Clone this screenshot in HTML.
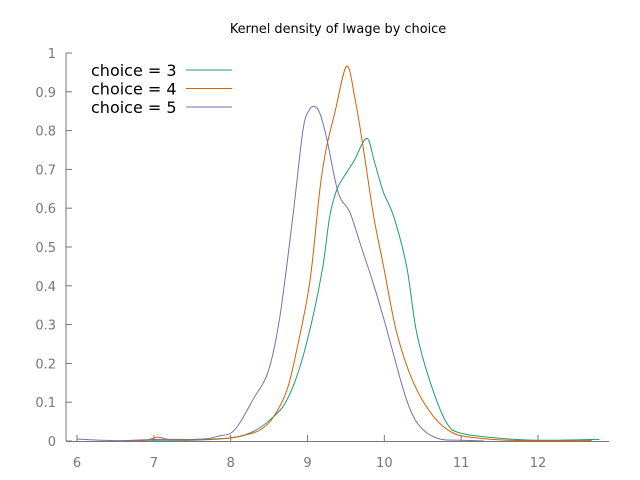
<!DOCTYPE html>
<html><head><meta charset="utf-8"><style>
body{margin:0;background:#fff;font-family:"DejaVu Sans","Liberation Sans",sans-serif}
svg{display:block}
</style></head><body>
<svg id="chart" width="640" height="480" xmlns="http://www.w3.org/2000/svg" font-family="DejaVu Sans, Liberation Sans, sans-serif">
<text x="338" y="33" text-anchor="middle" font-size="12.9" fill="#000">Kernel density of lwage by choice</text>
<g id="axes"></g>
<g id="series"></g>
<g id="legend"></g>
</svg>
<script>
const xTicks=[6,7,8,9,10,11,12];
const yTicks=[0,0.1,0.2,0.3,0.4,0.5,0.6,0.7,0.8,0.9,1];
const yTickLabels=["0","0.1","0.2","0.3","0.4","0.5","0.6","0.7","0.8","0.9","1"];
const seriesNames=["choice = 3","choice = 4","choice = 5"];
const c3x=[6.6,7.0,7.5,8.0,8.3,8.56,8.73,8.9,9.07,9.2,9.29,9.38,9.47,9.6,9.77,9.87,9.99,10.12,10.29,10.42,10.6,10.81,11.0,11.5,12.0,12.5,12.7,12.8];
const c3y=[0.001,0.002,0.002,0.008,0.025,0.063,0.105,0.19,0.32,0.45,0.58,0.647,0.68,0.72,0.78,0.72,0.64,0.58,0.45,0.28,0.15,0.047,0.02,0.007,0.002,0.003,0.004,0.004];
const c4x=[6.6,6.9,7.05,7.2,7.5,8.0,8.2,8.38,8.55,8.73,8.86,9.03,9.16,9.24,9.36,9.51,9.62,9.73,9.86,9.99,10.16,10.38,10.64,10.9,11.2,11.6,12.0,12.7];
const c4y=[0.001,0.002,0.01,0.004,0.003,0.008,0.016,0.028,0.06,0.13,0.235,0.41,0.647,0.75,0.85,0.966,0.88,0.75,0.58,0.45,0.28,0.15,0.063,0.02,0.008,0.002,0.001,0.001];
const c5x=[6.0,6.3,6.6,7.0,7.5,7.7,7.85,8.0,8.12,8.3,8.49,8.64,8.81,8.94,9.02,9.09,9.16,9.25,9.4,9.55,9.7,9.85,10.0,10.2,10.3,10.4,10.5,10.6,10.75,11.0,11.3];
const c5y=[0.005,0.002,0.001,0.004,0.004,0.006,0.013,0.02,0.047,0.11,0.18,0.32,0.58,0.8,0.852,0.862,0.845,0.78,0.64,0.59,0.5,0.41,0.31,0.165,0.1,0.055,0.03,0.015,0.004,0.002,0.0];
const colors=["#1a9e77","#d95f02","#7570b3"];
const X0=6,X1=12,PX0=77,PX1=538,Y0=441,Y1=53;
function sx(v){return PX0+(v-X0)*(PX1-PX0)/(X1-X0);}
function sy(v){return Y0-v*(Y0-Y1);}
const NS="http://www.w3.org/2000/svg";
function mk(t,a,p){const e=document.createElementNS(NS,t);for(const k in a)e.setAttribute(k,a[k]);p.appendChild(e);return e;}
const axes=document.getElementById('axes');
const yl=mk('line',{x1:66,y1:53,x2:66,y2:441,stroke:'#777','stroke-width':1},axes);


const xl=mk('line',{x1:66,y1:441.5,x2:609,y2:441.5,stroke:'#777','stroke-width':1},axes);


yTicks.forEach((v,i)=>{const y=sy(v);
 mk('line',{x1:66,y1:y,x2:72,y2:y,stroke:'#777'},axes);
 const t=mk('text',{x:56,y:y+5,'text-anchor':'end','font-size':13,fill:'#777'},axes);t.textContent=yTickLabels[i];
 
 });
xTicks.forEach(v=>{const x=sx(v);
 mk('line',{x1:x,y1:435,x2:x,y2:441,stroke:'#777'},axes);
 const t=mk('text',{x:x,y:467,'text-anchor':'middle','font-size':13,fill:'#777'},axes);t.textContent=String(v);
 
 });
function path(xs,ys){const p=xs.map((x,i)=>[sx(x),sy(ys[i])]);let d='M'+p[0][0]+','+p[0][1];
 for(let i=0;i<p.length-1;i++){const a=p[Math.max(0,i-1)],b=p[i],c=p[i+1],e=p[Math.min(p.length-1,i+2)];
  const c1=[b[0]+(c[0]-a[0])/6,b[1]+(c[1]-a[1])/6],c2=[c[0]-(e[0]-b[0])/6,c[1]-(e[1]-b[1])/6];
  d+=' C'+c1[0]+','+c1[1]+' '+c2[0]+','+c2[1]+' '+c[0]+','+c[1];}return d;}
const sg=document.getElementById('series');
[[c3x,c3y],[c4x,c4y],[c5x,c5y]].forEach((s,i)=>{
 const el=mk('path',{d:path(s[0],s[1]),fill:'none',stroke:colors[i],'stroke-width':1},sg);
 
 });
const lg=document.getElementById('legend');
seriesNames.forEach((n,i)=>{const y=70+i*18.5;
 const t=mk('text',{x:91,y:y+6,'font-size':16,fill:'#000'},lg);t.textContent=n;
 
 
 const l=mk('line',{x1:186,y1:y,x2:232,y2:y,stroke:colors[i]},lg);
 
 });
</script>
</body></html>
